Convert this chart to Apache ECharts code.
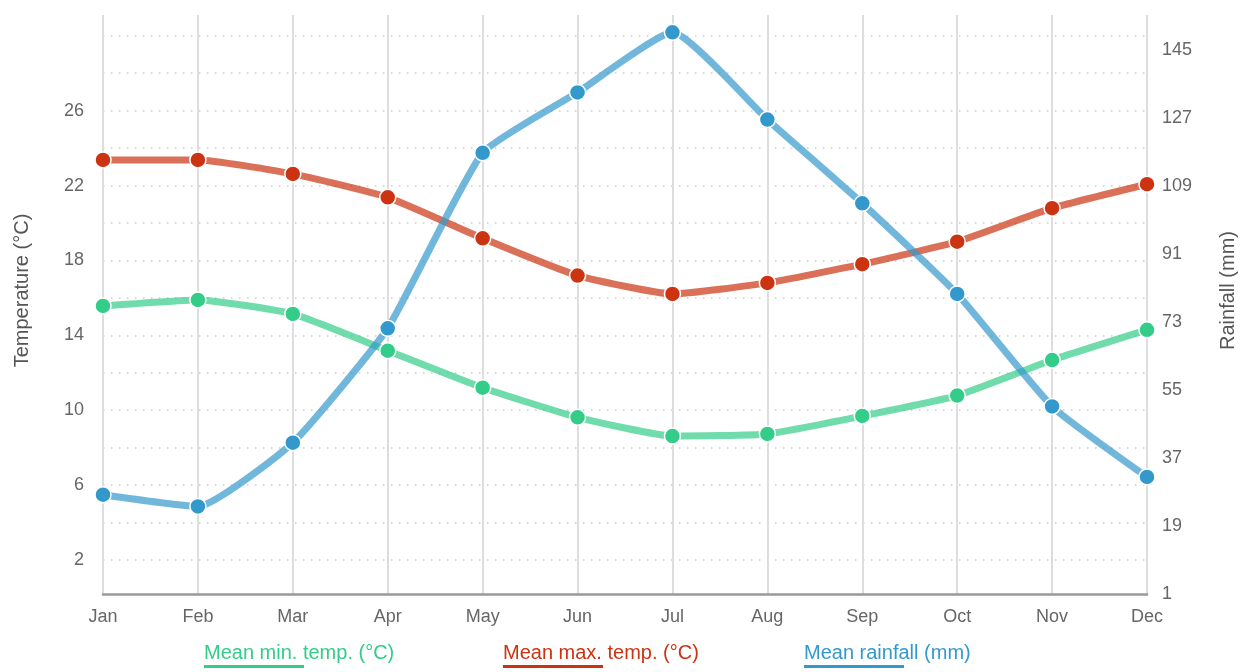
<!DOCTYPE html>
<html>
<head>
<meta charset="utf-8">
<script src="https://cdn.jsdelivr.net/npm/echarts@6/dist/echarts.min.js"></script>
<style>
html,body{margin:0;padding:0;background:#fff;overflow:hidden;}
#chart{width:1241px;height:672px;}
</style>
</head>
<body>
<div id="chart"></div>
<script>
const months = ['Jan','Feb','Mar','Apr','May','Jun','Jul','Aug','Sep','Oct','Nov','Dec'];
const minTemp = [15.57, 15.89, 15.14, 13.18, 11.20, 9.62, 8.62, 8.73, 9.69, 10.78, 12.68, 14.29];
const maxTemp = [23.37, 23.37, 22.62, 21.37, 19.18, 17.19, 16.21, 16.80, 17.80, 19.00, 20.79, 22.07];
const rainfall = [27.3, 24.2, 41.1, 71.4, 117.9, 133.9, 149.8, 126.7, 104.5, 80.5, 50.7, 32.0];
const tempLabels = [2, 6, 10, 14, 18, 22, 26];
const tempGrid = [2, 4, 6, 8, 10, 12, 14, 16, 18, 20, 22, 24, 26, 28, 30];
const rainLabels = [1, 19, 37, 55, 73, 91, 109, 127, 145];

const seriesNames = ['Mean min. temp. (°C)', 'Mean max. temp. (°C)', 'Mean rainfall (mm)'];
const colors = ['#33cc88', '#cc3311', '#3399cc'];
const FONT = '"Liberation Sans", Arial, sans-serif';

function legendFor(i, left) {
  return {
    data: [seriesNames[i]],
    left: left,
    top: 643,
    icon: 'rect',
    itemWidth: 0,
    itemHeight: 0,
    selectedMode: false,
    padding: 0,
    formatter: function (name) { return '{t|' + name + '}\n{u|}'; },
    textStyle: {
      color: colors[i],
      fontFamily: FONT,
      fontSize: 20,
      rich: {
        t: { color: colors[i], fontFamily: FONT, fontSize: 20, lineHeight: 24, align: 'left' },
        u: { width: 100, height: 3, backgroundColor: colors[i], align: 'left' }
      }
    }
  };
}

function lineSeries(i, data, yIndex) {
  return {
    name: seriesNames[i],
    type: 'line',
    yAxisIndex: yIndex,
    data: data,
    smooth: 0.15,
    symbol: 'circle',
    symbolSize: 16,
    itemStyle: { color: colors[i], borderColor: '#ffffff', borderWidth: 1.5 },
    lineStyle: { width: 7, color: colors[i], opacity: 0.7 },
    emphasis: { disabled: true },
    z: 3 + i
  };
}

const chart = echarts.init(document.getElementById('chart'), null, { renderer: 'canvas' });
chart.setOption({
  animation: false,
  backgroundColor: '#ffffff',
  textStyle: { fontFamily: FONT },
  grid: { left: 103, right: 94, top: 15, bottom: 78, containLabel: false, outerBoundsMode: 'none' },
  legend: [legendFor(0, 198), legendFor(1, 497), legendFor(2, 798)],
  xAxis: {
    type: 'category',
    data: months,
    boundaryGap: false,
    axisLine: { show: true, lineStyle: { color: '#999999', width: 2.5 } },
    axisTick: { show: false },
    axisLabel: { color: '#666666', fontSize: 18, fontFamily: FONT, margin: 14 },
    splitLine: { show: true, lineStyle: { color: '#dddddd', width: 2 } }
  },
  yAxis: [
    {
      type: 'value',
      min: 0.18,
      max: 31.11,
      name: 'Temperature (°C)',
      nameLocation: 'middle',
      nameRotate: 90,
      nameGap: 71,
      nameTextStyle: { color: '#555555', fontSize: 20, fontFamily: FONT, padding: [0, 0, 0, 28] },
      axisLine: { show: false },
      axisTick: { show: false, customValues: tempGrid },
      axisLabel: { color: '#666666', fontSize: 18, fontFamily: FONT, margin: 19, padding: [6, 0, 0, 0], customValues: tempLabels },
      splitLine: { show: true, lineStyle: { color: '#cccccc', width: 1.5, type: [1.5, 6.5] } }
    },
    {
      type: 'value',
      min: 1,
      max: 154.4,
      name: 'Rainfall (mm)',
      nameLocation: 'middle',
      nameRotate: 90,
      nameGap: 71,
      nameTextStyle: { color: '#555555', fontSize: 20, fontFamily: FONT, padding: [0, 0, 0, 28] },
      axisLine: { show: false },
      axisTick: { show: false, customValues: rainLabels },
      axisLabel: { color: '#666666', fontSize: 18, fontFamily: FONT, margin: 15, padding: [3, 0, 0, 0], customValues: rainLabels },
      splitLine: { show: false }
    }
  ],
  series: [
    lineSeries(0, minTemp, 0),
    lineSeries(1, maxTemp, 0),
    lineSeries(2, rainfall, 1)
  ]
});
</script>
</body>
</html>
